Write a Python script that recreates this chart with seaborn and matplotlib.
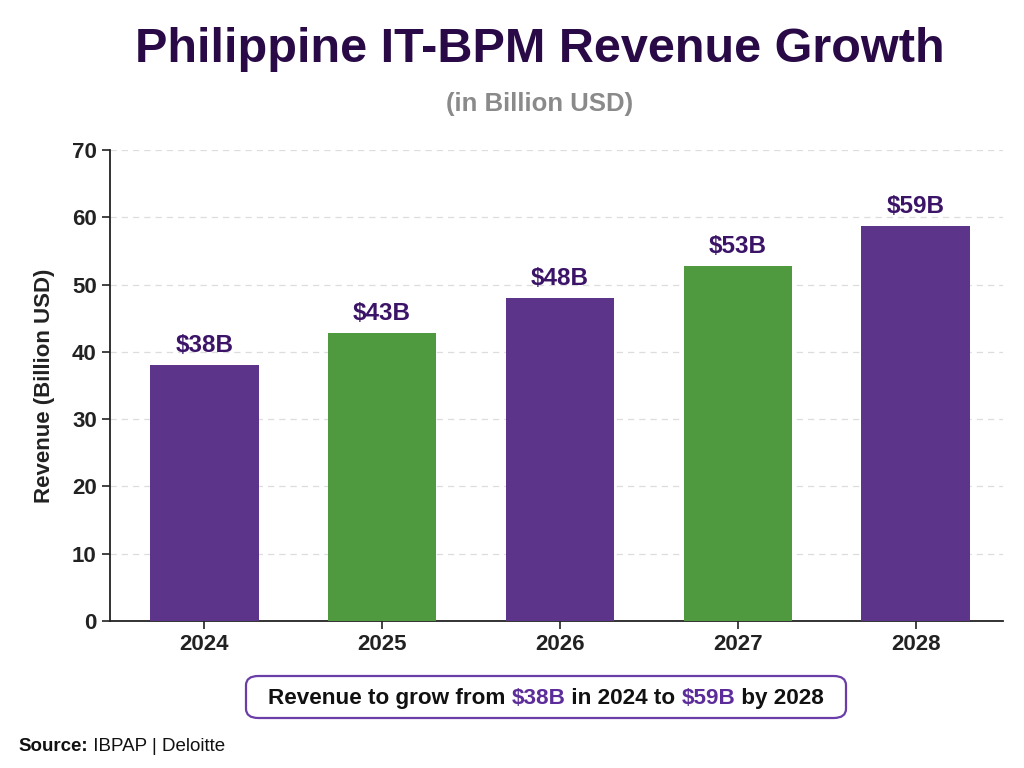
import matplotlib
matplotlib.use("Agg")
import matplotlib.pyplot as plt
from matplotlib.patches import FancyBboxPatch
import pandas as pd
import seaborn as sns

years = ["2024", "2025", "2026", "2027", "2028"]
revenue = [38.0, 42.8, 48.0, 52.7, 58.7]
bar_labels = ["$38B", "$43B", "$48B", "$53B", "$59B"]
bar_colors = ["#5c358a", "#4f9a3e", "#5c358a", "#4f9a3e", "#5c358a"]

PURPLE_TXT = "#3b1468"
TITLE_COL = "#290a47"

sns.set_theme(style="white")
plt.rcParams["font.family"] = ["Liberation Sans", "DejaVu Sans"]

df = pd.DataFrame({"year": years, "revenue": revenue})

fig = plt.figure(figsize=(10.24, 7.68), dpi=100)
ax = fig.add_axes([0.1074, 0.1914, 0.872, 0.6133])

sns.barplot(data=df, x="year", y="revenue", hue="year",
            palette=bar_colors, width=0.61, legend=False,
            saturation=1, linewidth=0, ax=ax, zorder=3)

ax.set_ylim(0, 70)
ax.set_xlim(-0.53, 4.49)
ax.set_yticks(range(0, 71, 10))
ax.yaxis.grid(True, linestyle=(0, (5, 4)), color="#dddddd", linewidth=0.9, zorder=0)
ax.set_axisbelow(True)

for s in ["top", "right"]:
    ax.spines[s].set_visible(False)
for s in ["left", "bottom"]:
    ax.spines[s].set_color("#222222")
    ax.spines[s].set_linewidth(1.3)

ax.tick_params(axis="both", which="major", length=6, width=1.2,
               color="#222222", labelsize=16, labelcolor="#222222", left=True, bottom=True)
for lab in ax.get_xticklabels() + ax.get_yticklabels():
    lab.set_fontweight("bold")

ax.set_xlabel("")
ax.set_ylabel("Revenue (Billion USD)", fontsize=16, fontweight="bold",
              color="#222222", labelpad=12)

for i, (v, lab) in enumerate(zip(revenue, bar_labels)):
    ax.text(i, v + 1.2, lab, ha="center", va="bottom", fontsize=17.5,
            fontweight="bold", color=PURPLE_TXT)

fig.text(0.527, 0.935, "Philippine IT-BPM Revenue Growth", ha="center", va="center",
         fontsize=35, fontweight="bold", color=TITLE_COL)
fig.text(0.527, 0.864, "(in Billion USD)", ha="center", va="center",
         fontsize=18.5, fontweight="bold", color="#8a8a8a")

# callout box
bx0, bx1 = 246 / 1024, 846 / 1024
by0, by1 = 1 - 718 / 768, 1 - 676 / 768
box = FancyBboxPatch((bx0, by0), bx1 - bx0, by1 - by0,
                     boxstyle="round,pad=0,rounding_size=0.012",
                     transform=fig.transFigure, facecolor="white",
                     edgecolor="#6a3ea8", linewidth=1.6, zorder=1)
fig.patches.append(box)

r = fig.canvas.get_renderer()


def text_run(pieces, x0, y, size, anchor="left"):
    # lay out coloured pieces one after another on a common baseline
    placed = []
    x = 0.0
    for s, c, wgt in pieces:
        t = fig.text(x, y, s, ha="left", va="baseline", fontsize=size,
                     fontweight=wgt, color=c, zorder=5)
        # measure with placeholders so trailing/leading spaces count
        probe = fig.text(0, 0, "|" + s + "|", fontsize=size, fontweight=wgt)
        bar = fig.text(0, 0, "||", fontsize=size, fontweight=wgt)
        w = (probe.get_window_extent(r).width - bar.get_window_extent(r).width) / fig.bbox.width
        probe.remove()
        bar.remove()
        placed.append((t, x))
        x += w
    start = x0 - x / 2 if anchor == "center" else x0
    for t, off in placed:
        t.set_x(start + off)


text_run([("Revenue to grow from ", "#111111", "bold"), ("$38B", "#5c2d9a", "bold"),
          (" in 2024 to ", "#111111", "bold"), ("$59B", "#5c2d9a", "bold"),
          (" by 2028", "#111111", "bold")],
         546 / 1024, 1 - 704 / 768, 16.2, anchor="center")

text_run([("Source:", "#111111", "bold"), (" IBPAP | Deloitte", "#111111", "normal")],
         18 / 1024, 1 - 751 / 768, 13.5)

fig.savefig("out.png", dpi=100, facecolor="white")
